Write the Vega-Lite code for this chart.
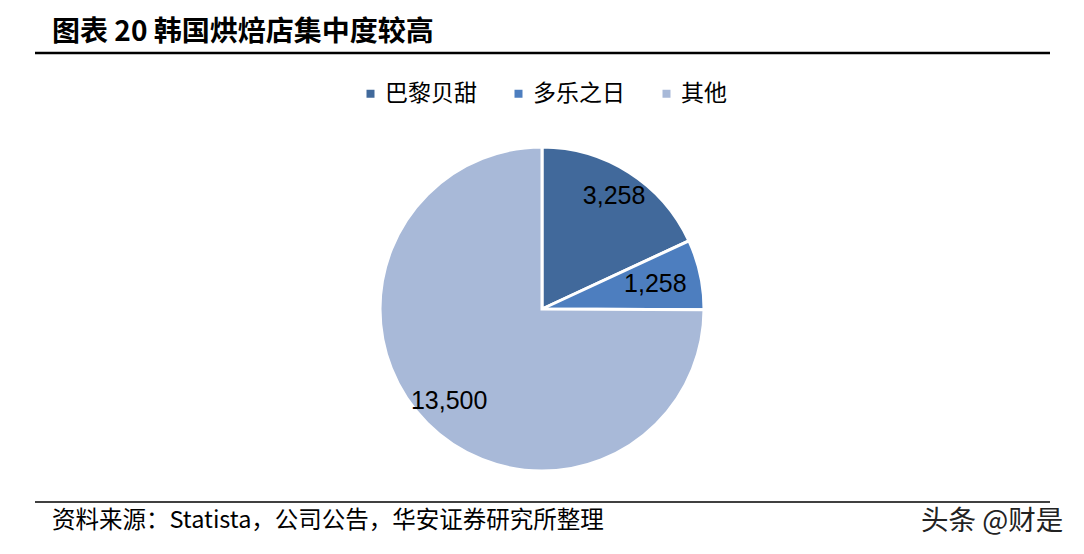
{
  "$schema": "https://vega.github.io/schema/vega-lite/v6.json",
  "width": 1084,
  "height": 490,
  "autosize": {"type": "none"},
  "padding": {"top": 64, "left": 0, "right": 0, "bottom": 0},
  "background": "white",
  "config": {"view": {"stroke": null}},
  "layer": [
    {
      "data": {"values": [
        {"name": "巴黎贝甜", "value": 3258, "rank": 1},
        {"name": "多乐之日", "value": 1258, "rank": 2},
        {"name": "其他", "value": 13500, "rank": 3}
      ]},
      "encoding": {
        "theta": {"field": "value", "type": "quantitative", "stack": true},
        "order": {"field": "rank", "type": "quantitative"}
      },
      "layer": [
        {
          "mark": {"type": "arc", "outerRadius": 162, "stroke": "white", "strokeWidth": 3},
          "encoding": {
            "color": {
              "field": "name",
              "type": "nominal",
              "scale": {"domain": ["巴黎贝甜", "多乐之日", "其他"], "range": ["#41699b", "#4d7ebf", "#a8b9d8"]},
              "legend": {
                "title": null,
                "orient": "none",
                "direction": "horizontal",
                "legendX": 359,
                "legendY": 18,
                "symbolType": "square",
                "symbolSize": 64,
                "symbolStrokeWidth": 0,
                "labelFont": "Noto Sans CJK SC",
                "labelFontSize": 23,
                "labelColor": "#000000",
                "labelOffset": 3,
                "columnPadding": 30
              }
            }
          }
        },
        {
          "mark": {"type": "text", "font": "Liberation Sans", "fontSize": 25, "color": "#000000"},
          "encoding": {
            "radius": {
              "field": "value",
              "type": "quantitative",
              "scale": {"type": "linear", "zero": false, "nice": false, "domain": [1258, 3258, 13500], "range": [116, 134, 131]}
            },
            "text": {"field": "value", "type": "quantitative", "format": ","}
          }
        }
      ]
    },
    {
      "data": {"values": [{"y": -11, "w": 2.5}, {"y": 438, "w": 1.5}]},
      "mark": {"type": "rule", "color": "#000000"},
      "encoding": {
        "x": {"value": 35},
        "x2": {"value": 1050},
        "y": {"field": "y", "type": "quantitative", "scale": null},
        "strokeWidth": {"field": "w", "type": "quantitative", "scale": null}
      }
    },
    {
      "data": {"values": [{"t": "图表 20 韩国烘焙店集中度较高"}]},
      "mark": {"type": "text", "align": "left", "baseline": "alphabetic", "font": "Noto Sans CJK SC", "fontSize": 28, "fontWeight": "bold", "color": "#000000"},
      "encoding": {"x": {"value": 52}, "y": {"value": -23}, "text": {"field": "t"}}
    },
    {
      "data": {"values": [{"t": "资料来源：Statista，公司公告，华安证券研究所整理"}]},
      "mark": {"type": "text", "align": "left", "baseline": "alphabetic", "font": "Noto Sans CJK SC", "fontSize": 23.5, "color": "#000000"},
      "encoding": {"x": {"value": 52}, "y": {"value": 464}, "text": {"field": "t"}}
    },
    {
      "data": {"values": [{"t": "头条 @财是"}]},
      "mark": {"type": "text", "align": "left", "baseline": "alphabetic", "font": "Noto Sans CJK SC", "fontSize": 27.5, "color": "#222222"},
      "encoding": {"x": {"value": 921}, "y": {"value": 466}, "text": {"field": "t"}}
    }
  ]
}
